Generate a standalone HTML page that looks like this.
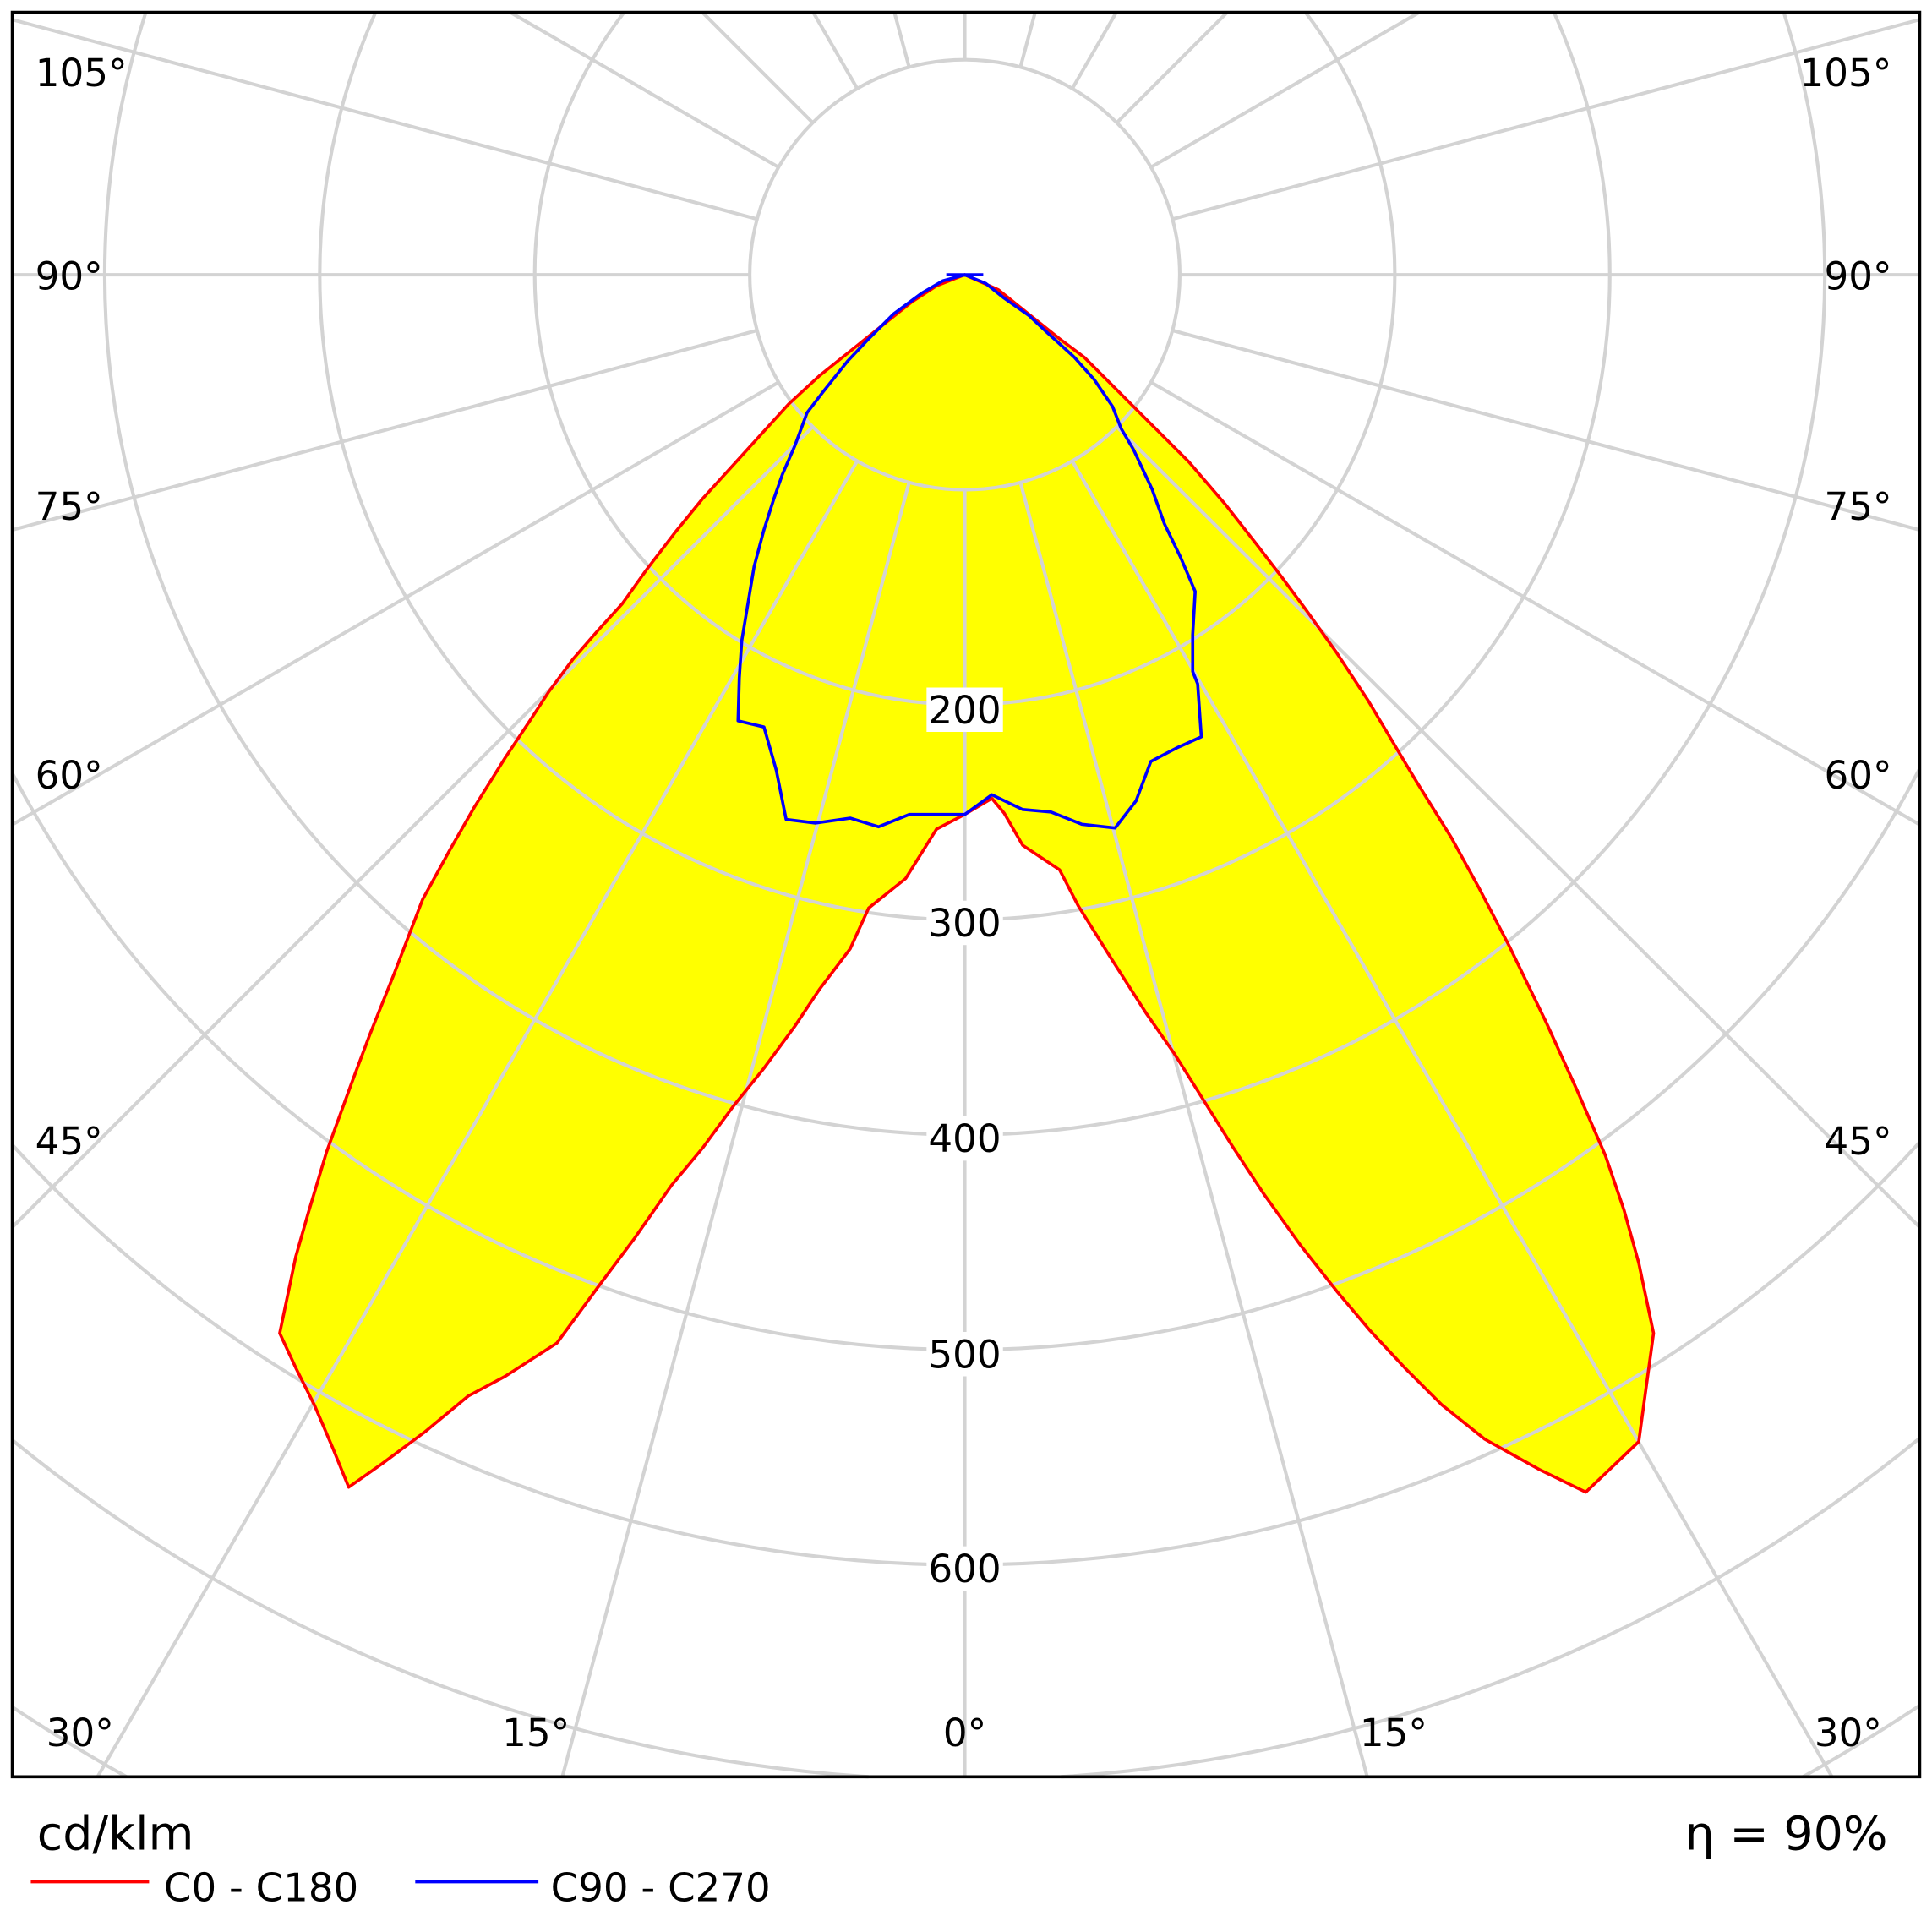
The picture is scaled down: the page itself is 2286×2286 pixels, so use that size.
<!DOCTYPE html>
<html><head><meta charset="utf-8"><style>
html,body{margin:0;padding:0;background:#fff;overflow:hidden;width:2286px;height:2286px;}
svg{display:block;}
text{font-family:"DejaVu Sans","Liberation Sans",sans-serif;}
</style></head><body>
<svg width="2286" height="2286" viewBox="0 0 1568 1568" xmlns="http://www.w3.org/2000/svg">
<rect width="1568" height="1568" fill="#fff"/>
<polygon fill="#ffff00" points="783,223 760,232 740,245 715,265 690,285 665,305 640,328 620,350 600,372 570,405 548,432 525,462 505,490 485,512 465,535 445,562 430,585 410,615 385,655 365,690 343,730 320,790 300,840 285,880 265,935 250,985 240,1020 227,1082 240,1110 255,1140 270,1175 283,1207 310,1188 345,1162 380,1133 410,1117 452,1090 485,1045 515,1005 545,962 570,932 595,898 620,867 645,833 665,803 690,770 705,737 735,713 760,673 783,661 805,648 815,660 830,686 860,706 875,735 900,775 930,822 953,855 975,890 1000,930 1025,968 1055,1010 1085,1048 1112,1080 1140,1110 1170,1140 1205,1168 1250,1193 1287,1211 1330,1170 1342,1082 1330,1025 1318,982 1303,938 1280,885 1255,830 1225,768 1200,720 1178,680 1150,635 1135,610 1110,568 1085,530 1060,495 1040,468 1020,442 995,410 965,375 940,350 920,330 900,310 880,290 860,275 835,255 810,235"/>
<g fill="none" stroke="#d3d3d3" stroke-width="2.8">
<circle cx="783" cy="223" r="174.5"/>
<path d="M506.5 10 A349 349 0 1 0 1059.5 10"/>
<path d="M304.8 10 A523.5 523.5 0 1 0 1261.2 10"/>
<path d="M118.3 10 A698 698 0 1 0 1447.7 10"/>
<path d="M10 627.6 A872.5 872.5 0 0 0 1558 623.8"/>
<path d="M10 929.2 A1047 1047 0 0 0 1558 927"/>
<path d="M10 1168.8 A1221.5 1221.5 0 0 0 704.9 1442"/>
<path d="M861.1 1442 A1221.5 1221.5 0 0 0 1558 1167.2"/>
<path d="M10 1385.4 A1396 1396 0 0 0 102.7 1442"/>
<path d="M1463.3 1442 A1396 1396 0 0 0 1558 1384.1"/>
<line x1="783" y1="397.5" x2="783" y2="1442"/>
<line x1="783" y1="48.5" x2="783" y2="10"/>
<line x1="737.8" y1="391.6" x2="456.4" y2="1442"/>
<line x1="695.75" y1="374.1" x2="79.2" y2="1442"/>
<line x1="659.6" y1="346.4" x2="10" y2="996"/>
<line x1="631.9" y1="310.25" x2="10" y2="669.3"/>
<line x1="614.4" y1="268.2" x2="10" y2="430.1"/>
<line x1="608.5" y1="223" x2="10" y2="223"/>
<line x1="614.4" y1="177.8" x2="10" y2="15.9"/>
<line x1="631.9" y1="135.75" x2="414.1" y2="10"/>
<line x1="659.6" y1="99.6" x2="570" y2="10"/>
<line x1="695.75" y1="71.9" x2="660" y2="10"/>
<line x1="737.8" y1="54.4" x2="725.9" y2="10"/>
<line x1="828.2" y1="391.6" x2="1109.6" y2="1442"/>
<line x1="870.25" y1="374.1" x2="1486.8" y2="1442"/>
<line x1="906.4" y1="346.4" x2="1558" y2="996"/>
<line x1="934.1" y1="310.25" x2="1558" y2="669.3"/>
<line x1="951.6" y1="268.2" x2="1558" y2="430.1"/>
<line x1="957.5" y1="223" x2="1558" y2="223"/>
<line x1="951.6" y1="177.8" x2="1558" y2="15.9"/>
<line x1="934.1" y1="135.75" x2="1151.9" y2="10"/>
<line x1="906.4" y1="99.6" x2="996" y2="10"/>
<line x1="870.25" y1="71.9" x2="906" y2="10"/>
<line x1="828.2" y1="54.4" x2="840.1" y2="10"/>
</g>
<polygon fill="none" stroke="#ff0000" stroke-width="2.5" stroke-linejoin="round" points="783,223 760,232 740,245 715,265 690,285 665,305 640,328 620,350 600,372 570,405 548,432 525,462 505,490 485,512 465,535 445,562 430,585 410,615 385,655 365,690 343,730 320,790 300,840 285,880 265,935 250,985 240,1020 227,1082 240,1110 255,1140 270,1175 283,1207 310,1188 345,1162 380,1133 410,1117 452,1090 485,1045 515,1005 545,962 570,932 595,898 620,867 645,833 665,803 690,770 705,737 735,713 760,673 783,661 805,648 815,660 830,686 860,706 875,735 900,775 930,822 953,855 975,890 1000,930 1025,968 1055,1010 1085,1048 1112,1080 1140,1110 1170,1140 1205,1168 1250,1193 1287,1211 1330,1170 1342,1082 1330,1025 1318,982 1303,938 1280,885 1255,830 1225,768 1200,720 1178,680 1150,635 1135,610 1110,568 1085,530 1060,495 1040,468 1020,442 995,410 965,375 940,350 920,330 900,310 880,290 860,275 835,255 810,235"/>
<polygon fill="none" stroke="#0000ff" stroke-width="2.5" stroke-linejoin="round" points="783,223 765,228 748,238 725,255 705,275 688,293 668,318 655,335 645,362 635,385 628,405 620,430 612,460 607,490 602,520 600,550 599,585 620,590 630,625 638,665 662,668 690,664 713,671 738,661 765,661 783,661 805,645 830,657 853,659 878,669 905,672 922,650 934,618 955,607 975,598 972,555 968,545 968,515 970,480 958,452 945,425 935,397 920,365 910,348 903,330 888,308 872,290 850,270 835,256 815,242 800,230"/>
<line x1="768" y1="223" x2="798" y2="223" stroke="#0000ff" stroke-width="2.5"/>
<rect x="10" y="10" width="1548" height="1432" fill="none" stroke="#000" stroke-width="2.5"/>
<g font-size="31" text-anchor="middle" fill="#000">
<g fill="#fff"><rect x="752" y="558" width="62" height="36"/><rect x="752" y="731" width="62" height="36"/><rect x="752" y="906" width="62" height="36"/><rect x="752" y="1081" width="62" height="36"/><rect x="752" y="1255" width="62" height="36"/></g>
<text x="783" y="587">200</text><text x="783" y="760">300</text><text x="783" y="935">400</text><text x="783" y="1110">500</text><text x="783" y="1284">600</text>
<text x="783" y="1417">0°</text><text x="435" y="1417">15°</text><text x="1131" y="1417">15°</text><text x="65" y="1417">30°</text><text x="1500" y="1417">30°</text>
<text x="56" y="937">45°</text><text x="56" y="640">60°</text><text x="56" y="422">75°</text><text x="56" y="235">90°</text><text x="66" y="70">105°</text>
<text x="1508" y="937">45°</text><text x="1508" y="640">60°</text><text x="1508" y="422">75°</text><text x="1508" y="235">90°</text><text x="1498" y="70">105°</text>
</g>
<text x="30" y="1501" font-size="38">cd/klm</text>
<text x="1532" y="1501" font-size="38" text-anchor="end">η = 90%</text>
<line x1="25" y1="1527" x2="121" y2="1527" stroke="#ff0000" stroke-width="3"/>
<text x="133" y="1543" font-size="32">C0 - C180</text>
<line x1="337" y1="1527" x2="437" y2="1527" stroke="#0000ff" stroke-width="3"/>
<text x="447" y="1543" font-size="32">C90 - C270</text>
</svg>
</body></html>
